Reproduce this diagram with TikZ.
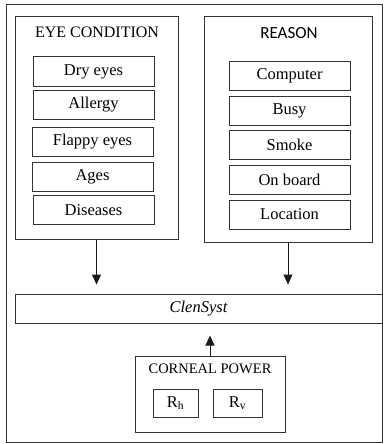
\documentclass[tikz,border=0pt]{standalone}
\usepackage{fontspec}
\setmainfont{Liberation Serif}
\newfontfamily\reasonfont{Carlito}
\usetikzlibrary{arrows.meta}
\begin{document}
\begin{tikzpicture}[x=1pt,y=-1pt,
  grp/.style={draw=black!80,line width=1pt,inner sep=0pt},
  item/.style={draw=black!80,line width=1pt,inner sep=0pt,minimum width=121pt,minimum height=29pt,font=\fontsize{16.5}{18}\selectfont},
  sub/.style={item,minimum width=46pt,minimum height=28pt},
  arr/.style={draw=black!90,line width=1pt,-{Triangle[length=10pt,width=9pt]}},
  ]
\useasboundingbox (0,0) rectangle (383,444);
\node[grp,minimum width=376pt,minimum height=437pt] (outer) at (194,223.5) {};
\node[grp,minimum width=163pt,minimum height=222pt] (eye) at (96.5,128) {};
\node[font=\fontsize{16}{18}\selectfont] (eyetitle) at (97,32) {EYE CONDITION};
\node[item] (dry) at (93.5,71.5) {Dry eyes};
\node[item] (allergy) at (93.5,105) {Allergy};
\node[item] (flappy) at (92.5,142) {Flappy eyes};
\node[item] (ages) at (92.5,176.5) {Ages};
\node[item] (diseases) at (93.5,210) {Diseases};
\node[grp,minimum width=168pt,minimum height=225pt] (reason) at (288,129.5) {};
\node[font=\reasonfont\fontsize{17}{19}\selectfont] (reasontitle) at (289,33) {REASON};
\node[item] (computer) at (289.5,76) {Computer};
\node[item] (busy) at (289.5,111) {Busy};
\node[item] (smoke) at (289.5,145) {Smoke};
\node[item] (onboard) at (289.5,180) {On board};
\node[item] (location) at (289.5,214.5) {Location};
\node[grp,minimum width=367pt,minimum height=29pt,font=\fontsize{16.5}{18}\selectfont\itshape] (clensyst) at (198.5,308.5) {ClenSyst};
\node[grp,minimum width=150pt,minimum height=76pt] (corneal) at (210,394) {};
\node[font=\fontsize{14.5}{17}\selectfont] (cornealtitle) at (210,369) {CORNEAL POWER};
\node[sub,minimum width=45pt] (rh) at (175.5,403) {R\textsubscript{h}};
\node[sub,minimum width=49pt] (rv) at (237.5,403) {R\textsubscript{v}};
\draw[arr,shorten >=9pt] (eye.south) -- (eye.south|-clensyst.north);
\draw[arr,shorten >=9pt] (reason.south) -- (reason.south|-clensyst.north);
\draw[arr,shorten >=12pt] (corneal.north) -- (corneal.north|-clensyst.south);
\end{tikzpicture}
\end{document}
